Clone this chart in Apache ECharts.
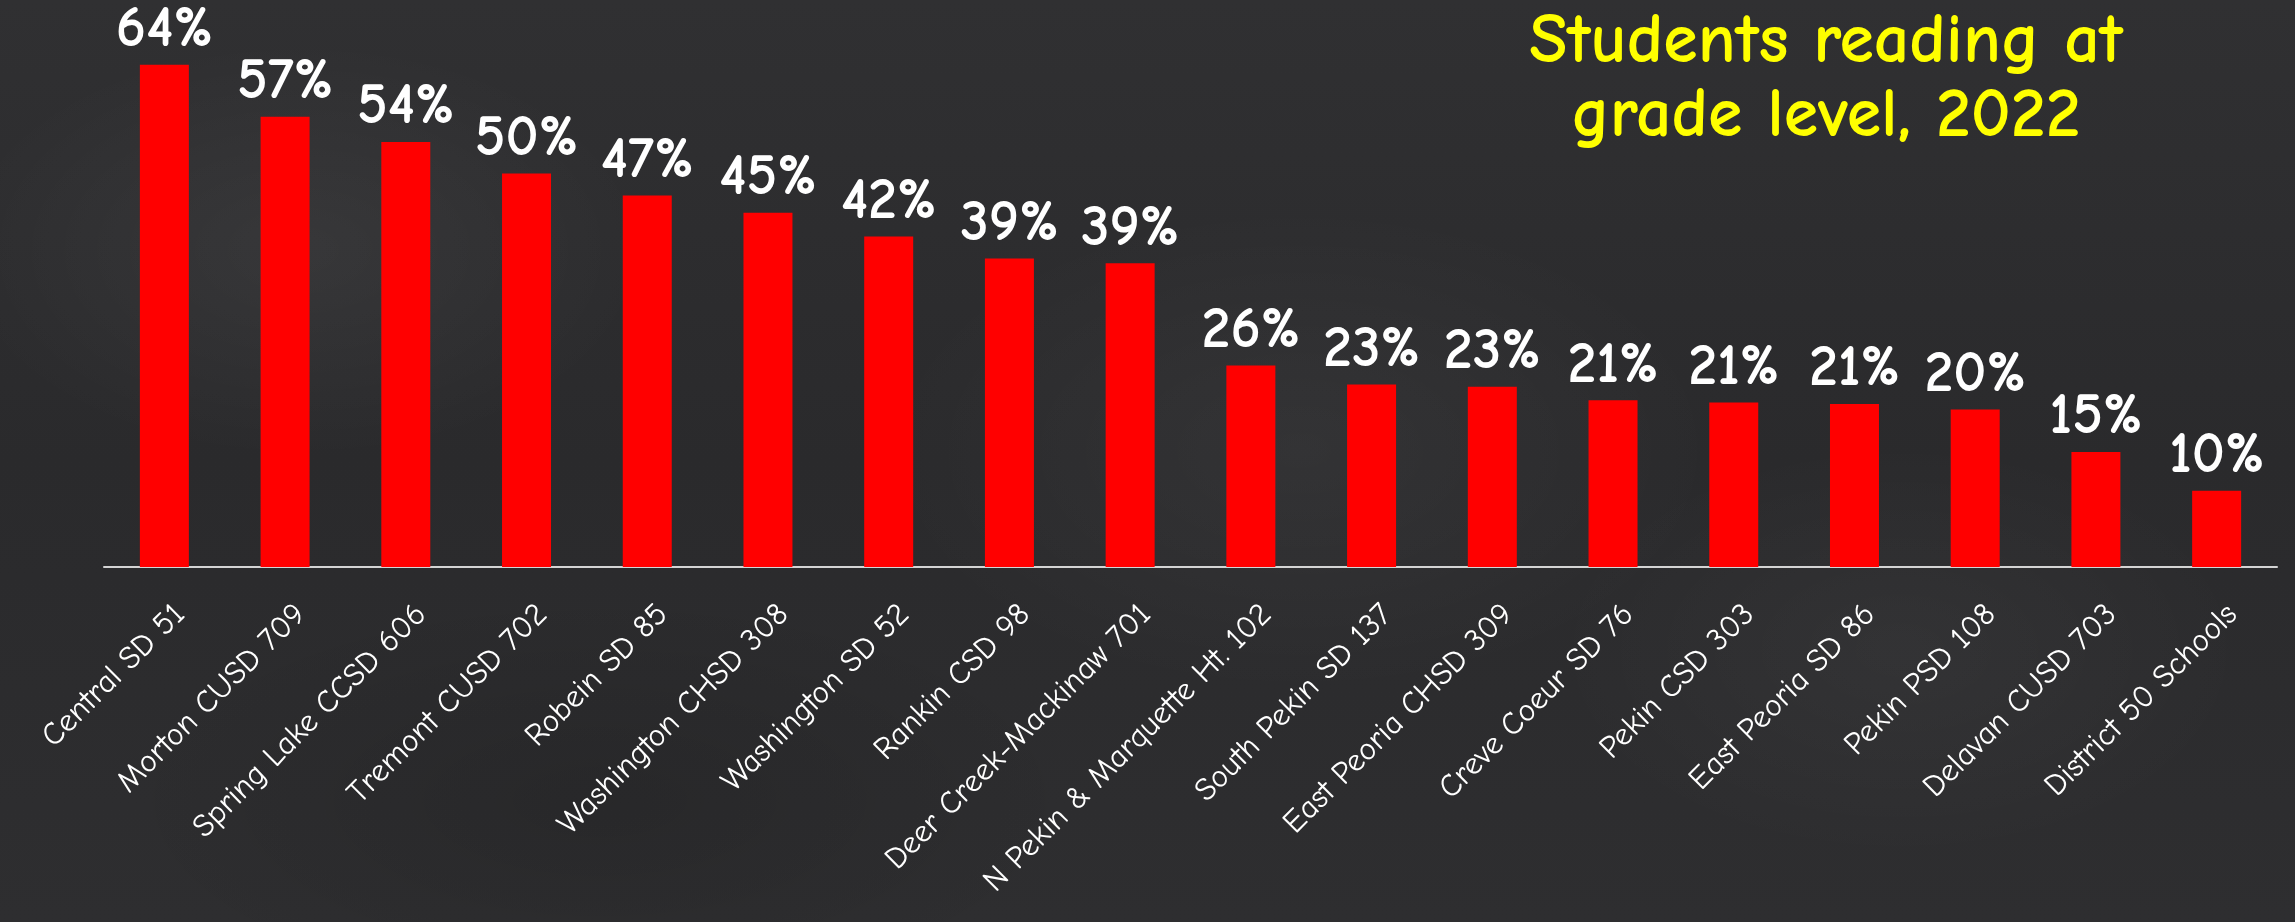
<!DOCTYPE html>
<html>
<head>
<meta charset="utf-8">
<script src="https://cdn.jsdelivr.net/npm/echarts@6/dist/echarts.min.js"></script>
<style>
html,body{margin:0;padding:0;width:2295px;height:922px;overflow:hidden;}
body{
  background-color:#2c2c2e;
  background-image:
    radial-gradient(ellipse 500px 300px at 300px 250px, rgba(255,255,255,0.05), rgba(255,255,255,0) 70%),
    radial-gradient(ellipse 600px 350px at 1300px 450px, rgba(255,255,255,0.045), rgba(255,255,255,0) 70%),
    radial-gradient(ellipse 500px 300px at 1900px 650px, rgba(255,255,255,0.035), rgba(255,255,255,0) 70%),
    radial-gradient(ellipse 700px 300px at 600px 800px, rgba(0,0,0,0.12), rgba(0,0,0,0) 70%),
    linear-gradient(180deg,#303032 0%,#2a2a2c 50%,#2e2e30 100%);
}
#chart{width:2295px;height:922px;}
</style>
</head>
<body>
<div id="chart"></div>
<script>
const categories = [
  "Central SD 51","Morton CUSD 709","Spring Lake CCSD 606","Tremont CUSD 702",
  "Robein SD 85","Washington CHSD 308","Washington SD 52","Rankin CSD 98",
  "Deer Creek-Mackinaw 701","N Pekin & Marquette Ht. 102","South Pekin SD 137",
  "East Peoria CHSD 309","Creve Coeur SD 76","Pekin CSD 303","East Peoria SD 86",
  "Pekin PSD 108","Delavan CUSD 703","District 50 Schools"
];
const values = [63.8, 57.2, 54.0, 50.0, 47.2, 45.0, 42.0, 39.2, 38.6, 25.6, 23.2, 22.9, 21.2, 20.9, 20.7, 20.0, 14.6, 9.7];
const titleLines = ["Students reading at", "grade level, 2022"];

const FONT = '"Comic Sans MS", "Comic Neue", "Open Sans", sans-serif';
const chart = echarts.init(document.getElementById('chart'), null, {renderer:'canvas'});
chart.setOption({
  backgroundColor: 'transparent',
  animation: false,
  title: {
    text: titleLines.join('\n'),
    left: 1821,
    top: 0,
    textAlign: 'center',
    textStyle: {
      color: '#ffff00',
      fontFamily: FONT,
      fontWeight: 'bold',
      fontSize: 70,
      lineHeight: 74
    }
  },
  grid: {left: 104, right: 18, top: 16, bottom: 355, containLabel: false},
  xAxis: {
    type: 'category',
    data: categories,
    axisLine: {show: true, lineStyle: {color: '#d4d4d4', width: 2}},
    axisTick: {show: false},
    axisLabel: {
      interval: 0,
      rotate: 45,
      color: '#ffffff',
      fontFamily: FONT,
      fontSize: 32,
      margin: 58,
      padding: [0, -22, 0, 0]
    }
  },
  yAxis: {
    type: 'value',
    min: 0,
    max: 70,
    show: false,
    splitLine: {show: false}
  },
  series: [{
    type: 'bar',
    data: values,
    barWidth: 49,
    itemStyle: {color: '#ff0000'},
    label: {
      show: true,
      position: 'top',
      distance: 6,
      color: '#ffffff',
      fontFamily: FONT,
      fontWeight: 'bold',
      fontSize: 58,
      formatter: p => Math.round(p.value) + '%'
    }
  }]
});
</script>
</body>
</html>
